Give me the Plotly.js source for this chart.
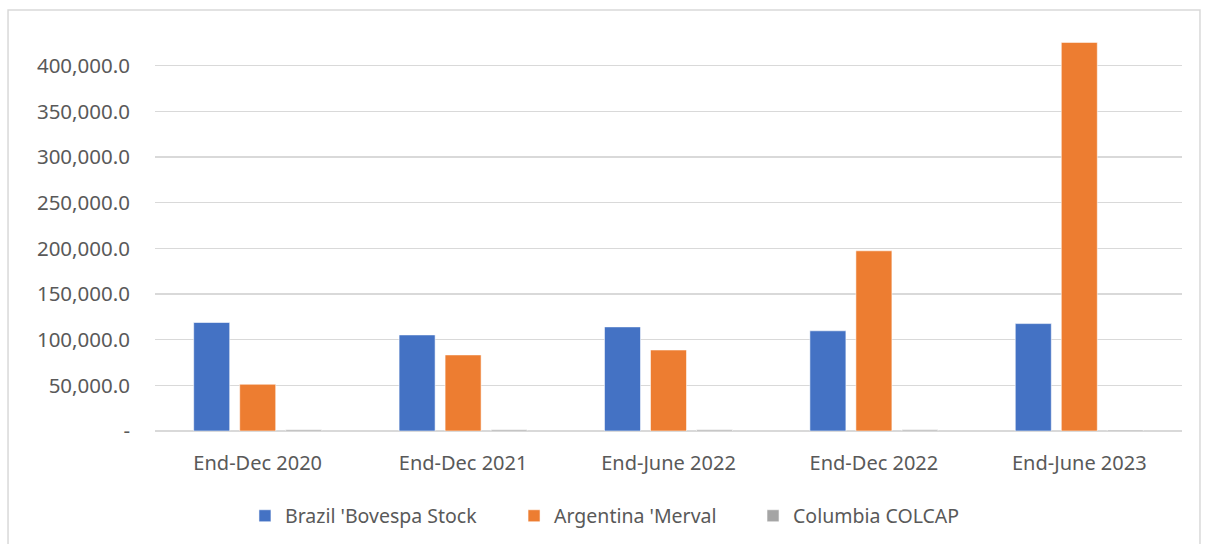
<!DOCTYPE html>
<html>
<head>
<meta charset="utf-8">
<script src="https://cdn.plot.ly/plotly-3.0.1.min.js"></script>
<style>html,body{margin:0;padding:0;background:#fff;}#chart{width:1208px;height:544px;}</style>
</head>
<body>
<div id="chart"></div>
<script>
const categories = ["End-Dec 2020", "End-Dec 2021", "End-June 2022", "End-Dec 2022", "End-June 2023"];
const brazil = [118800, 105200, 114000, 109700, 117600];
const argentina = [51200, 83300, 88700, 197300, 425500];
const colombia = [1438, 1411, 1350, 1286, 1130];
const seriesNames = ["Brazil 'Bovespa Stock", "Argentina 'Merval", "Columbia COLCAP"];
const tickValues = [0, 50000, 100000, 150000, 200000, 250000, 300000, 350000, 400000];
const tickLabels = ["-", "50,000.0", "100,000.0", "150,000.0", "200,000.0", "250,000.0", "300,000.0", "350,000.0", "400,000.0"];

const colors = ["#4472C4", "#ED7D31", "#A5A5A5"];
const fontFam = "'Noto Sans', 'Open Sans', sans-serif";
const legendIds = ["legend", "legend2", "legend3"];
const legendX = [0.0876, 0.3496, 0.5823];

const traces = [brazil, argentina, colombia].map((vals, i) => ({
  type: "bar",
  name: seriesNames[i],
  x: categories,
  y: vals,
  legend: legendIds[i],
  marker: {color: colors[i], line: {color: "rgba(255,255,255,0.7)", width: 0.8}},
  hoverinfo: "x+y+name"
}));

function legendCfg(x) {
  return {
    orientation: "h", x: x, xanchor: "left", y: -0.207, yanchor: "middle",
    font: {size: 19.5, color: "#595959", family: fontFam},
    itemwidth: 30, bgcolor: "rgba(0,0,0,0)"
  };
}

const layout = {
  width: 1208, height: 544,
  margin: {l: 155, r: 26, t: 20, b: 113, autoexpand: false},
  paper_bgcolor: "#ffffff", plot_bgcolor: "#ffffff",
  barmode: "group",
  bargap: 0.328,
  bargroupgap: 0.217,
  font: {family: fontFam, color: "#595959", size: 20},
  xaxis: {
    type: "category",
    automargin: false,
    showgrid: false, zeroline: false,
    showline: false,
    ticks: "", ticklen: 0,
    ticklabelstandoff: 18,
    tickfont: {size: 20, color: "#595959", family: fontFam}
  },
  yaxis: {
    automargin: false,
    range: [0, 450000],
    tickvals: tickValues, ticktext: tickLabels,
    showgrid: true, gridcolor: "#d9d9d9", gridwidth: 1.5,
    zeroline: true, zerolinecolor: "#d9d9d9", zerolinewidth: 1.5,
    showline: false, ticks: "",
    ticklabelstandoff: 24,
    tickfont: {size: 20.5, color: "#595959", family: fontFam}
  },
  legend: legendCfg(legendX[0]),
  legend2: legendCfg(legendX[1]),
  legend3: legendCfg(legendX[2]),
  showlegend: true,
  shapes: [{
    type: "rect", xref: "paper", yref: "paper",
    x0: -0.1431, x1: 1.0175, y0: -0.29, y1: 1.0243,
    line: {color: "#d9d9d9", width: 1.5}, fillcolor: "rgba(0,0,0,0)", layer: "below"
  }]
};

Plotly.newPlot("chart", traces, layout, {displayModeBar: false, staticPlot: true});
</script>
</body>
</html>
